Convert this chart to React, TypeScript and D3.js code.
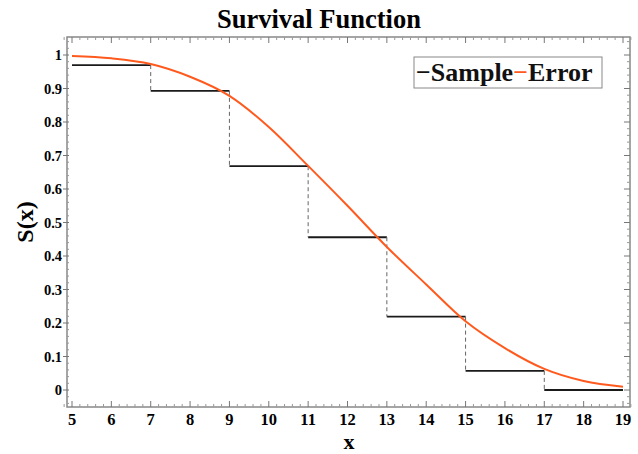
import * as d3 from 'd3';

// step (sample) survival estimate
const stepX = [5, 7, 9, 11, 13, 15, 17, 19];
const sampleS = [0.97, 0.893, 0.668, 0.456, 0.219, 0.057, 0];

// smooth "Error" curve
const errorX = [5, 6, 7, 8, 9, 10, 11, 12, 13, 14, 15, 16, 17, 18, 19];
const errorS = [0.997, 0.99, 0.973, 0.935, 0.878, 0.785, 0.669, 0.55, 0.427, 0.315, 0.205, 0.125, 0.063, 0.027, 0.01];

const xTicks = [5, 6, 7, 8, 9, 10, 11, 12, 13, 14, 15, 16, 17, 18, 19];
const yTicks = [0, 0.1, 0.2, 0.3, 0.4, 0.5, 0.6, 0.7, 0.8, 0.9, 1];

const W = 638;
const H = 454;
const frame = { left: 67, top: 37, right: 630, bottom: 407 };
const red = '#ff5a1e';
const font = '"Liberation Serif", "Times New Roman", serif';

export default function App() {
  const x = d3.scaleLinear().domain([5, 19]).range([72, 623]);
  const y = d3.scaleLinear().domain([0, 1]).range([390, 55]);

  const line = d3
    .line<number>()
    .x((_, i) => x(errorX[i]))
    .y((d) => y(d))
    .curve(d3.curveMonotoneX);

  const minorX = d3.range(4.8, 19.21, 0.2).filter((v) => Math.abs(v - Math.round(v)) > 0.01);
  const minorY = d3.range(-0.04, 1.05, 0.02).filter((v) => Math.abs(v * 10 - Math.round(v * 10)) > 0.01);

  return (
    <svg
      width={W}
      height={H}
      style={{ position: 'absolute', left: 0, top: 0, background: '#fff' }}
      fontFamily={font}
    >
      <text x={319} y={28} textAnchor="middle" fontSize={26.5} fontWeight="bold">
        Survival Function
      </text>

      {/* frame */}
      <rect
        x={frame.left}
        y={frame.top}
        width={frame.right - frame.left}
        height={frame.bottom - frame.top}
        fill="none"
        stroke="#888"
        strokeWidth={1.5}
      />

      {/* x ticks, bottom and top */}
      {xTicks.map((t) => (
        <g key={'xt' + t}>
          <line x1={x(t)} x2={x(t)} y1={frame.bottom} y2={frame.bottom - 6} stroke="#777" />
          <line x1={x(t)} x2={x(t)} y1={frame.top} y2={frame.top + 6} stroke="#777" />
          <text x={x(t)} y={425} textAnchor="middle" fontSize={16.5} fontWeight="bold">
            {t}
          </text>
        </g>
      ))}
      {minorX.map((t, i) => (
        <g key={'xm' + i}>
          <line x1={x(t)} x2={x(t)} y1={frame.bottom} y2={frame.bottom - 3} stroke="#999" />
          <line x1={x(t)} x2={x(t)} y1={frame.top} y2={frame.top + 3} stroke="#999" />
        </g>
      ))}

      {/* y ticks, left and right */}
      {yTicks.map((t) => (
        <g key={'yt' + t}>
          <line x1={frame.left - 4} x2={frame.left + 2} y1={y(t)} y2={y(t)} stroke="#777" />
          <line x1={frame.right} x2={frame.right - 6} y1={y(t)} y2={y(t)} stroke="#777" />
          <text x={62} y={y(t) + 5} textAnchor="end" fontSize={14.5} fontWeight="bold">
            {d3.format('~g')(t)}
          </text>
        </g>
      ))}
      {minorY.map((t, i) => (
        <g key={'ym' + i}>
          <line x1={frame.left} x2={frame.left + 2} y1={y(t)} y2={y(t)} stroke="#999" />
          <line x1={frame.right} x2={frame.right - 3} y1={y(t)} y2={y(t)} stroke="#999" />
        </g>
      ))}

      {/* axis titles */}
      <text x={349} y={449} textAnchor="middle" fontSize={22} fontWeight="bold">
        x
      </text>
      <text
        transform={`translate(33,222) rotate(-90)`}
        textAnchor="middle"
        fontSize={24}
        fontWeight="bold"
      >
        S(x)
      </text>

      {/* sample step function */}
      {sampleS.map((s, i) => (
        <line
          key={'h' + i}
          x1={x(stepX[i])}
          x2={x(stepX[i + 1])}
          y1={y(s)}
          y2={y(s)}
          stroke="#1a1a1a"
          strokeWidth={1.8}
        />
      ))}
      {sampleS.slice(1).map((s, i) => (
        <line
          key={'v' + i}
          x1={x(stepX[i + 1])}
          x2={x(stepX[i + 1])}
          y1={y(sampleS[i])}
          y2={y(s)}
          stroke="#666"
          strokeWidth={1}
          strokeDasharray="4,3"
        />
      ))}

      {/* error curve */}
      <path d={line(errorS) ?? ''} fill="none" stroke={red} strokeWidth={2} />

      {/* legend */}
      <rect x={414} y={57} width={188} height={31} fill="#fff" stroke="#888" strokeWidth={1} />
      <text x={416} y={81} fontSize={26} fontWeight="bold">
        <tspan fill="#111">−Sample</tspan>
        <tspan fill={red}>−</tspan>
        <tspan fill="#111">Error</tspan>
      </text>
    </svg>
  );
}
